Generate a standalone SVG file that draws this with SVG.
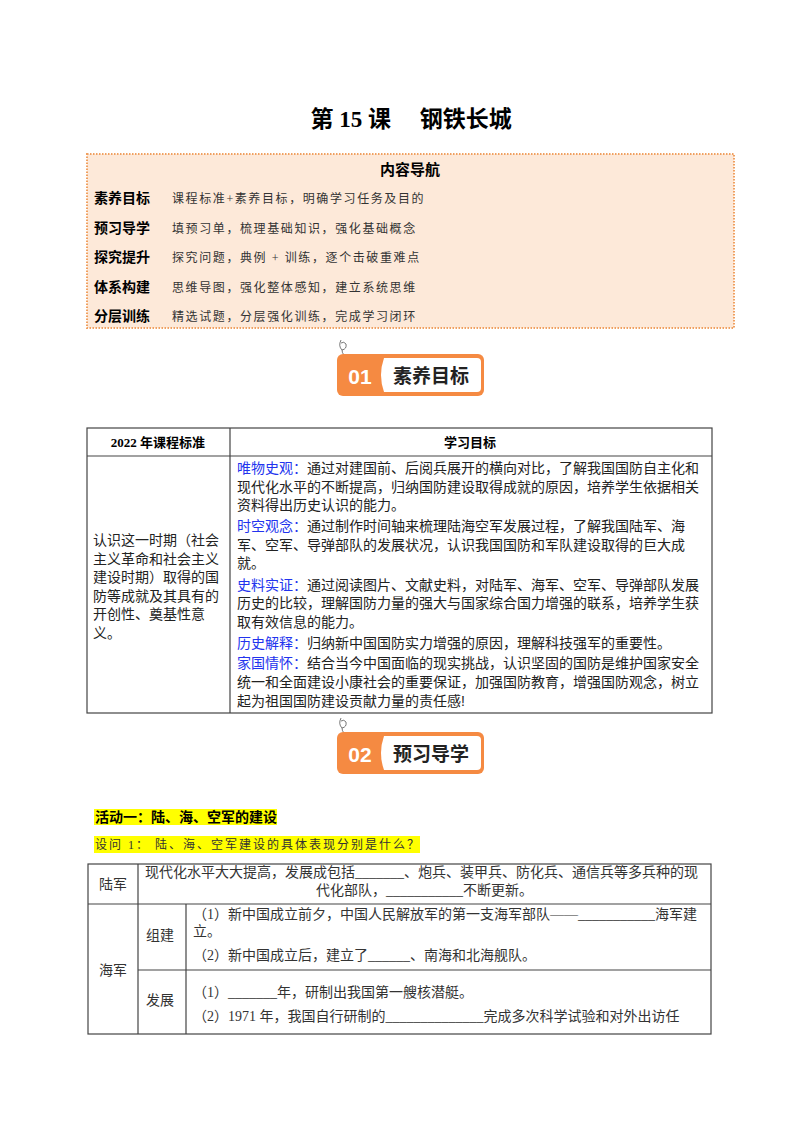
<svg xmlns="http://www.w3.org/2000/svg" width="800" height="1132" viewBox="0 0 800 1132">
<style>
.s{font-family:"Liberation Serif","Noto Sans CJK SC",serif}
.h{font-family:"Liberation Sans","Noto Sans CJK SC",sans-serif}
.b{font-weight:bold}
.nl{font-size:14px;font-weight:bold;font-family:"Noto Sans CJK SC",sans-serif}
.bt{font-size:19px;font-weight:bold;font-family:"Noto Sans CJK SC",sans-serif;fill:#222}
.nd{font-size:12px;letter-spacing:1.6px;font-family:"Liberation Serif","Noto Sans CJK SC",serif;fill:#333}
.t{font-size:14px;font-family:"Liberation Sans","Noto Sans CJK SC",sans-serif;fill:#222}
.k{fill:#2233ee}
.c{font-size:14px;font-family:"Liberation Serif","Noto Sans CJK SC",serif;fill:#333}
.ln{stroke:#444;stroke-width:1.2;fill:none}
</style>
<rect width="800" height="1132" fill="#fff"/>
<text x="411" y="127" text-anchor="middle" class="s b" font-size="23">第 15 课　 钢铁长城</text>
<g id="nav">
<rect x="87" y="154" width="647" height="174" fill="#fde9d9" stroke="#f0a060" stroke-width="2" stroke-dasharray="1.5 1.5"/>
<text x="410" y="175" text-anchor="middle" class="nl" style="font-size:15px">内容导航</text>
<text x="94" y="203" class="nl">素养目标</text><text x="172" y="203" class="nd">课程标准+素养目标，明确学习任务及目的</text>
<text x="94" y="233" class="nl">预习导学</text><text x="172" y="233" class="nd">填预习单，梳理基础知识，强化基础概念</text>
<text x="94" y="262" class="nl">探究提升</text><text x="172" y="262" class="nd">探究问题，典例 + 训练，逐个击破重难点</text>
<text x="94" y="292" class="nl">体系构建</text><text x="172" y="292" class="nd">思维导图，强化整体感知，建立系统思维</text>
<text x="94" y="321" class="nl">分层训练</text><text x="172" y="321" class="nd">精选试题，分层强化训练，完成学习闭环</text>
</g>
<g id="badge1">
<path d="M341 340 q-3 6 1 10 q5 -1 4 -6 q-2 -3 -5 -1 M342 350 q0 3 2 5" fill="none" stroke="#555" stroke-width="0.8"/>
<rect x="337" y="354" width="147" height="42" rx="6" fill="#f58a42"/>
<path d="M384 358 H477 a4 4 0 0 1 4 4 V388 a4 4 0 0 1 -4 4 H384 q-6 -17 0 -34z" fill="#fff"/>
<text x="360" y="384" text-anchor="middle" class="h b" font-size="21" fill="#fff">01</text>
<text x="431" y="383" text-anchor="middle" class="bt">素养目标</text>
</g>
<g id="table1">
<rect x="87" y="428" width="625" height="285" class="ln"/>
<line x1="87" y1="456" x2="712" y2="456" class="ln"/>
<line x1="230" y1="428" x2="230" y2="713" class="ln"/>
<text x="158" y="447" text-anchor="middle" class="s b" font-size="13">2022 年课程标准</text>
<text x="470" y="447" text-anchor="middle" class="s b" font-size="13">学习目标</text>
<g class="t">
<text x="93" y="545">认识这一时期（社会</text>
<text x="93" y="564">主义革命和社会主义</text>
<text x="93" y="582">建设时期）取得的国</text>
<text x="93" y="601">防等成就及其具有的</text>
<text x="93" y="619">开创性、奠基性意</text>
<text x="93" y="638">义。</text>
<text x="237" y="473"><tspan class="k">唯物史观：</tspan>通过对建国前、后阅兵展开的横向对比，了解我国国防自主化和</text>
<text x="237" y="492">现代化水平的不断提高，归纳国防建设取得成就的原因，培养学生依据相关</text>
<text x="237" y="510">资料得出历史认识的能力。</text>
<text x="237" y="531"><tspan class="k">时空观念：</tspan>通过制作时间轴来梳理陆海空军发展过程，了解我国陆军、海</text>
<text x="237" y="550">军、空军、导弹部队的发展状况，认识我国国防和军队建设取得的巨大成</text>
<text x="237" y="568">就。</text>
<text x="237" y="590"><tspan class="k">史料实证：</tspan>通过阅读图片、文献史料，对陆军、海军、空军、导弹部队发展</text>
<text x="237" y="608">历史的比较，理解国防力量的强大与国家综合国力增强的联系，培养学生获</text>
<text x="237" y="627">取有效信息的能力。</text>
<text x="237" y="648"><tspan class="k">历史解释：</tspan>归纳新中国国防实力增强的原因，理解科技强军的重要性。</text>
<text x="237" y="668"><tspan class="k">家国情怀：</tspan>结合当今中国面临的现实挑战，认识坚固的国防是维护国家安全</text>
<text x="237" y="687">统一和全面建设小康社会的重要保证，加强国防教育，增强国防观念，树立</text>
<text x="237" y="706">起为祖国国防建设贡献力量的责任感!</text>
</g>
</g>
<g id="badge2">
<path d="M341 718 q-3 6 1 10 q5 -1 4 -6 q-2 -3 -5 -1 M342 728 q0 3 2 5" fill="none" stroke="#555" stroke-width="0.8"/>
<rect x="337" y="732" width="147" height="42" rx="6" fill="#f58a42"/>
<path d="M384 736 H477 a4 4 0 0 1 4 4 V766 a4 4 0 0 1 -4 4 H384 q-6 -17 0 -34z" fill="#fff"/>
<text x="360" y="762" text-anchor="middle" class="h b" font-size="21" fill="#fff">02</text>
<text x="431" y="761" text-anchor="middle" class="bt">预习导学</text>
</g>
<g id="activity">
<rect x="94" y="809" width="183" height="16" fill="#ffff00"/>
<text x="95" y="822" class="nl">活动一：陆、海、空军的建设</text>
<rect x="94" y="836" width="326" height="17" fill="#ffff00"/>
<text x="95" y="849" class="nd" style="letter-spacing:2px">设问 1：  陆、海、空军建设的具体表现分别是什么？</text>
</g>
<g id="table2">
<rect x="88" y="864" width="623" height="170" class="ln"/>
<line x1="88" y1="904" x2="711" y2="904" class="ln"/>
<line x1="138" y1="864" x2="138" y2="1034" class="ln"/>
<line x1="186" y1="904" x2="186" y2="1034" class="ln"/>
<line x1="138" y1="970" x2="711" y2="970" class="ln"/>
<g class="c">
<text x="99" y="889">陆军</text>
<text x="99" y="975">海军</text>
<text x="146" y="940">组建</text>
<text x="146" y="1005">发展</text>
<text x="145" y="877">现代化水平大大提高，发展成包括_______、炮兵、装甲兵、防化兵、通信兵等多兵种的现</text>
<text x="316" y="895">代化部队，___________不断更新。</text>
<text x="193" y="919">（1）新中国成立前夕，中国人民解放军的第一支海军部队——___________海军建</text>
<text x="193" y="936">立。</text>
<text x="193" y="960">（2）新中国成立后，建立了______、南海和北海舰队。</text>
<text x="193" y="997">（1）_______年，研制出我国第一艘核潜艇。</text>
<text x="193" y="1021">（2）1971 年，我国自行研制的______________完成多次科学试验和对外出访任</text>
</g>
</g>
</svg>
